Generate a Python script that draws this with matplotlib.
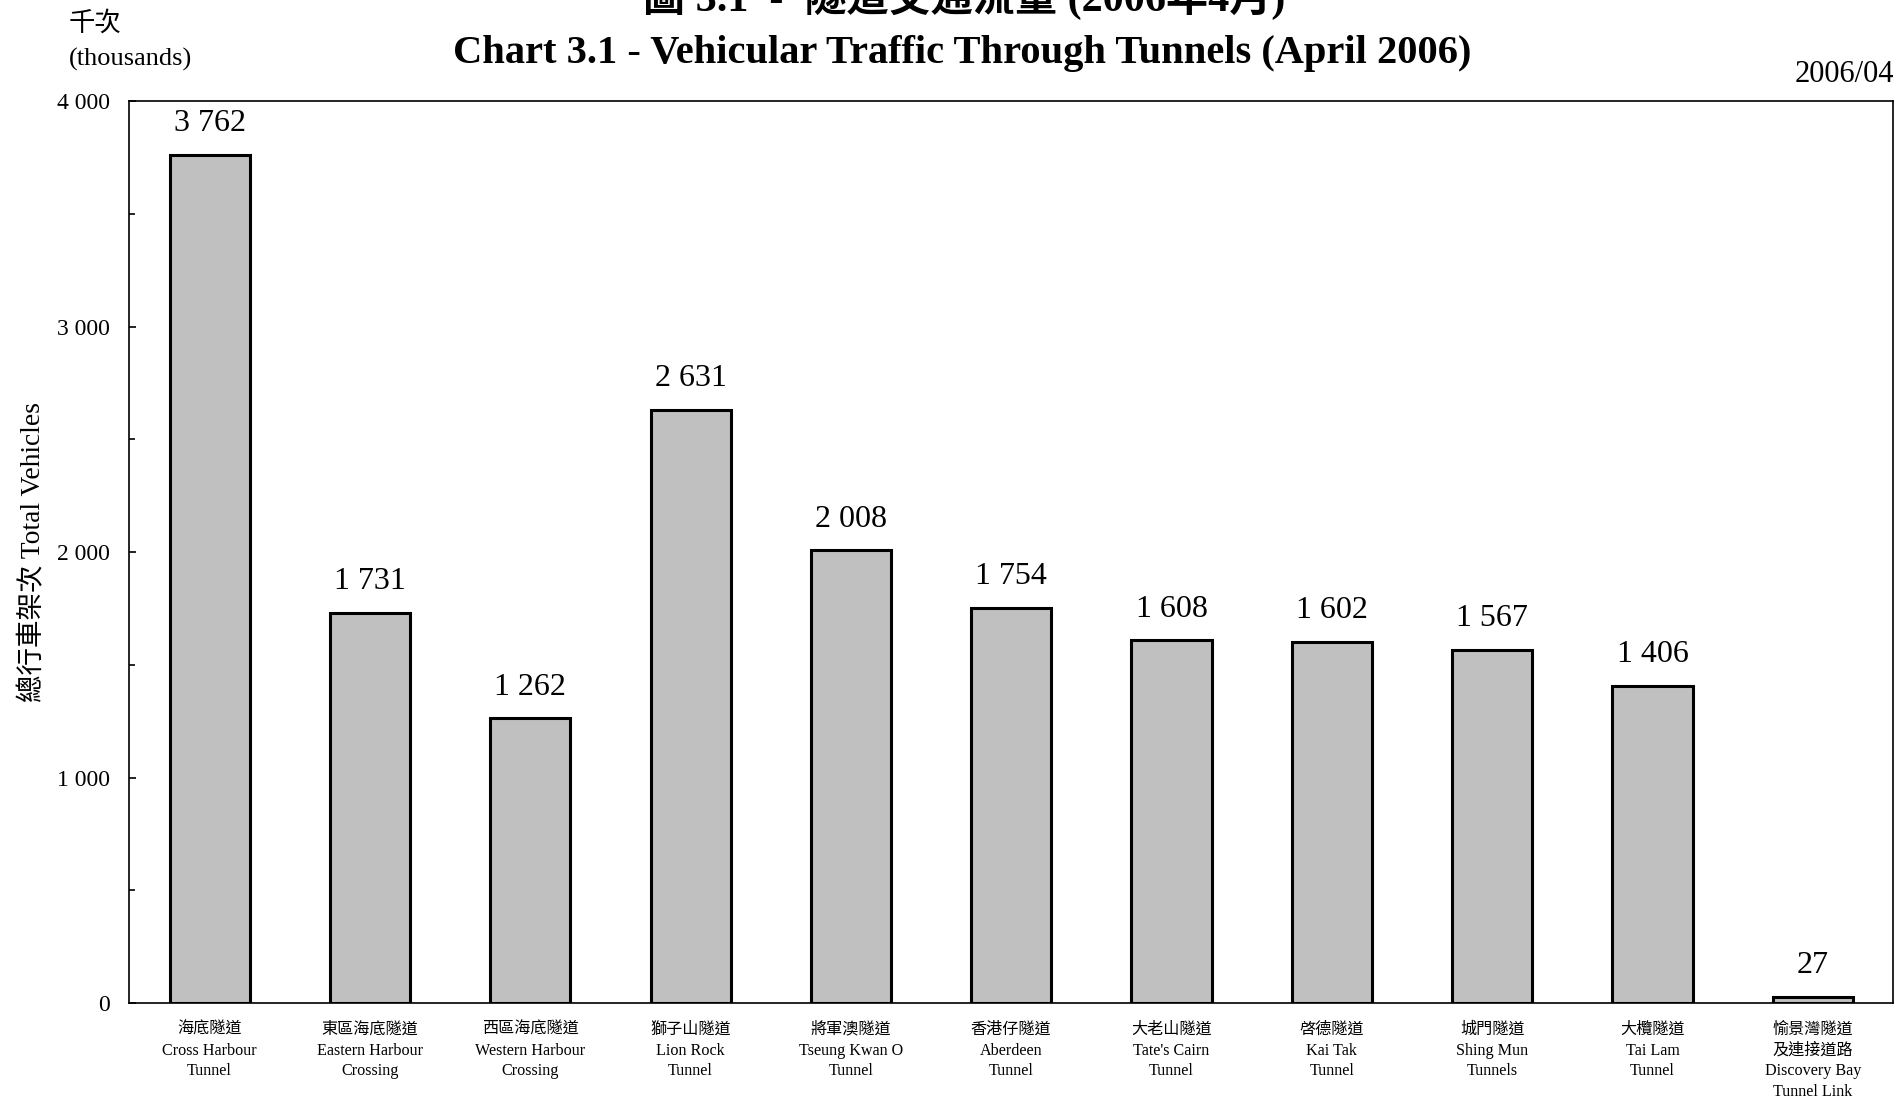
#!/usr/bin/env python
# -*- coding: utf-8 -*-

import matplotlib
matplotlib.use("Agg")
from matplotlib import pyplot as plt
from matplotlib.ticker import MultipleLocator, FuncFormatter

# tunnel names (Chinese / English) and traffic in thousands of vehicles
names_zh = ["海底隧道", "東區海底隧道", "西區海底隧道", "獅子山隧道", "將軍澳隧道",
            "香港仔隧道", "大老山隧道", "啓德隧道", "城門隧道", "大欖隧道",
            "愉景灣隧道\n及連接道路"]
names_en = ["Cross Harbour\nTunnel", "Eastern Harbour\nCrossing", "Western Harbour\nCrossing",
            "Lion Rock\nTunnel", "Tseung Kwan O\nTunnel", "Aberdeen\nTunnel",
            "Tate's Cairn\nTunnel", "Kai Tak\nTunnel", "Shing Mun\nTunnels",
            "Tai Lam\nTunnel", "Discovery Bay\nTunnel Link"]
vehicles = [3762, 1731, 1262, 2631, 2008, 1754, 1608, 1602, 1567, 1406, 27]

FONTS = ["Liberation Serif", "Noto Sans CJK TC"]
plt.rcParams["font.family"] = FONTS


def spaced(v):
    return "{:,}".format(int(v)).replace(",", " ")


def plot_tunnels(out):
    fig = plt.figure(figsize=[18.96, 11.02], dpi=100)
    ax = fig.add_axes([0.0683, 0.0898, 0.9301, 0.8185])

    x = range(len(vehicles))
    ax.bar(x, vehicles, width=0.5, color="#c0c0c0", edgecolor="#000000", linewidth=2.2)
    for i, v in enumerate(vehicles):
        ax.annotate(spaced(v), (i, v), xytext=(0, 17), textcoords="offset points",
                    ha="center", va="baseline", fontsize=23)

    ax.set_xlim(-0.5, len(vehicles) - 0.5)
    ax.set_ylim(0, 4000)
    ax.yaxis.set_major_locator(MultipleLocator(1000))
    ax.yaxis.set_minor_locator(MultipleLocator(500))
    ax.yaxis.set_major_formatter(FuncFormatter(lambda v, p: spaced(v)))
    ax.tick_params(axis="y", which="major", direction="in", length=5, width=1.2,
                   labelsize=17, pad=14)
    ax.tick_params(axis="y", which="minor", direction="in", length=4, width=1.2)
    ax.tick_params(axis="x", length=0, pad=13.5)

    labels = ["%s\n%s" % (zh, en) for zh, en in zip(names_zh, names_en)]
    ax.set_xticks(list(x))
    ax.set_xticklabels(labels, fontsize=11.6, linespacing=1.4, va="top")

    for s in ax.spines.values():
        s.set_linewidth(1.2)

    ax.set_ylabel("總行車架次 Total Vehicles", fontsize=19.8, labelpad=8)

    fig.text(0.0364, 1 - 23 / 1102, "千次", fontsize=19, va="center", ha="left")
    fig.text(0.0364, 1 - 59 / 1102, "(thousands)", fontsize=19, va="center", ha="left")
    fig.text(1795 / 1896.0, 1 - 75 / 1102, "2006/04", fontsize=22, va="center", ha="left")

    fig.text(964 / 1896.0, 1 - 11 / 1102, "圖 3.1  -  隧道交通流量 (2006年4月)",
             fontsize=30.3, fontweight="bold", ha="center", va="baseline")
    fig.text(962 / 1896.0, 1 - 54 / 1102,
             "Chart 3.1 - Vehicular Traffic Through Tunnels (April 2006)",
             fontsize=29.2, fontweight="bold", ha="center", va="center")

    fig.savefig(out, dpi=100)


if __name__ == "__main__":
    plot_tunnels("out.png")
